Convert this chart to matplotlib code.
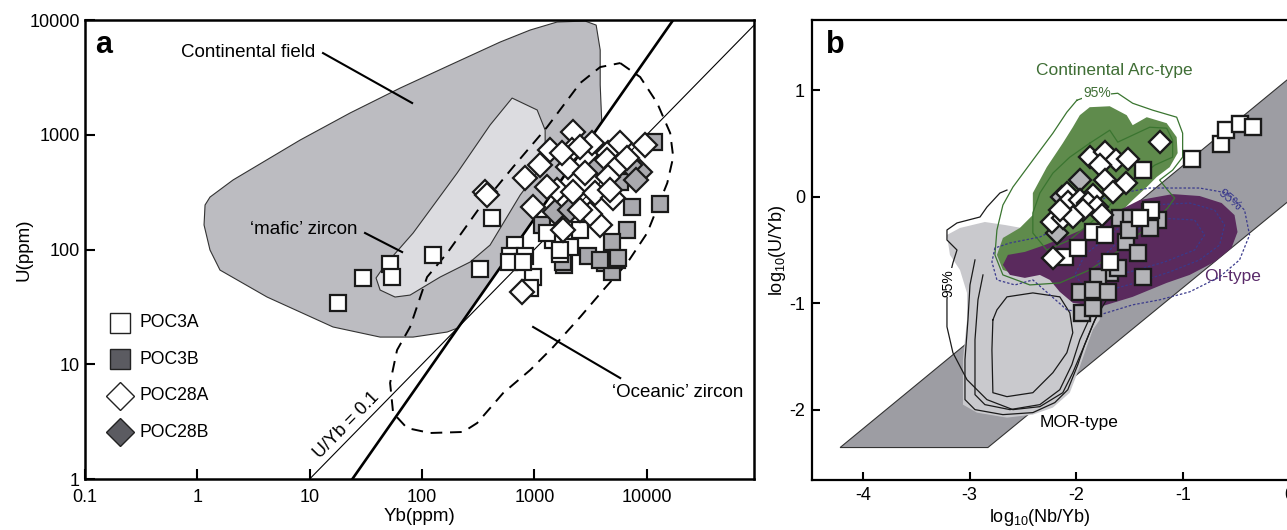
import numpy as np
import matplotlib
matplotlib.use("Agg")
import matplotlib.pyplot as plt

plt.rcParams['font.family'] = ['Liberation Sans', 'DejaVu Sans']
plt.rcParams['mathtext.default'] = 'regular'
plt.rcParams['axes.unicode_minus'] = False

# ---------------- panel a : U vs Yb (ppm) ----------------
poc3a_yb = [18, 30, 52, 54, 126, 330, 420, 674, 608, 828, 1695, 1480, 2550, 982, 2080, 1290, 917, 589, 800, 1700]
poc3a_u = [34, 56, 75, 58, 90, 68, 190, 109, 87, 87, 92, 121, 148, 58, 106, 138, 46, 78, 78, 100]

poc3b_yb = [7380, 13200, 6650, 4900, 3030, 4270, 4900, 5420, 1820, 11500, 5800, 1165, 1815, 3850, 5600]
poc3b_u = [236, 249, 148, 117, 87, 76, 64, 81, 73, 871, 390, 163, 78, 81, 84]

poc28a_yb = [2230, 3240, 1380, 2150, 4560, 5800, 9680, 1125, 2010, 2830, 4410, 5420, 4560, 828,
             1580, 2230, 3470, 5060, 1290, 981, 1815, 3850, 3130, 2550, 2550, 6650, 1750, 4720,
             365, 380, 780]
poc28a_u = [1064, 841, 736, 736, 689, 841, 815, 545, 527, 461, 603, 527, 432, 417,
            330, 319, 308, 279, 352, 236, 148, 163, 206, 221, 787, 624, 689, 330,
            320, 300, 43]

poc28b_yb = [8730, 1530, 2080, 3850, 7110, 8000]
poc28b_u = [476, 213, 221, 546, 546, 400]

# field outlines, log10 units
cont_logyb = [0.113, 0.318, 0.915, 1.360, 1.805, 2.250, 2.695, 2.963, 3.203, 3.452, 3.550, 3.586,
              3.586, 3.600, 2.318, 2.224, 1.921, 1.627, 1.208, 0.621, 0.202, 0.113, 0.060, 0.069]
cont_logu = [2.457, 2.606, 2.954, 3.190, 3.407, 3.608, 3.808, 3.913, 3.983, 3.991, 3.956, 3.739,
             3.434, 3.111, 1.316, 1.281, 1.237, 1.237, 1.325, 1.586, 1.821, 1.996, 2.214, 2.388]

mafic_logyb = [2.802, 3.025, 3.096, 3.096, 3.007, 2.874, 2.740, 2.606, 2.428, 2.161, 1.894, 1.760,
               1.627, 1.591, 1.671, 1.921, 2.313, 2.606]
mafic_logu = [3.320, 3.216, 3.041, 2.867, 2.649, 2.475, 2.257, 2.039, 1.891, 1.760, 1.603, 1.586,
              1.647, 1.752, 1.865, 2.144, 2.667, 3.085]

ocean_logyb = [3.764, 3.942, 4.093, 4.209, 4.236, 4.183, 4.004, 3.826, 3.613, 3.408, 3.167, 2.963,
               2.722, 2.491, 2.366, 2.072, 1.867, 1.743, 1.716, 1.778, 1.894, 2.045, 2.224, 2.517,
               2.811, 3.114, 3.408, 3.586, 3.764]
ocean_logu = [3.625, 3.503, 3.277, 3.015, 2.806, 2.580, 2.144, 1.882, 1.647, 1.412, 1.150, 0.950,
              0.749, 0.488, 0.410, 0.401, 0.444, 0.575, 0.837, 1.124, 1.325, 1.760, 1.969, 2.370,
              2.719, 3.068, 3.451, 3.590, 3.625]

uyb_line_yb = [10, 90000]
thick_line_yb = [24, 17200]
thick_line_u = [1, 10000]

# ---------------- panel b : log(U/Yb) vs log(Nb/Yb) ----------------
b_poc3a_x = [-1.372, -0.910, -0.638, -0.598, -0.466, -0.341, -1.841, -1.732, -2.107, -1.982, -1.685, -1.294, -1.404]
b_poc3a_y = [0.250, 0.359, 0.500, 0.625, 0.681, 0.656, -0.328, -0.359, -0.563, -0.484, -0.609, -0.125, -0.203]

b_poc3b_x = [-1.591, -1.482, -1.310, -1.232, -1.310, -1.528, -1.419, -1.685, -1.607, -1.794, -1.372,
             -1.966, -1.841, -1.700, -1.950, -1.841, -1.500]
b_poc3b_y = [-0.203, -0.203, -0.141, -0.219, -0.297, -0.422, -0.531, -0.719, -0.672, -0.750, -0.750,
             -0.891, -0.875, -0.891, -1.094, -1.047, -0.310]

b_poc28a_x = [-1.215, -1.872, -1.731, -1.622, -1.512, -1.778, -1.731, -1.528, -1.653, -1.840, -2.090,
              -2.075, -1.965, -1.887, -1.809, -1.934, -1.762, -2.231, -2.122, -2.028, -2.153, -2.216]
b_poc28a_y = [0.516, 0.375, 0.422, 0.344, 0.359, 0.297, 0.156, 0.125, 0.047, 0.016, 0.031,
              -0.047, -0.031, -0.063, -0.094, -0.125, -0.172, -0.234, -0.203, -0.188, -0.125, -0.578]

b_poc28b_x = [-1.966, -2.137, -2.182]
b_poc28b_y = [0.156, 0.000, -0.340]

band_x = [-4.216, -2.829, 0.6, 0.6]
band_y = [-2.355, -2.355, 0.457, 1.608]

mor_x = [-3.213, -3.091, -2.857, -2.669, -2.407, -2.154, -1.779, -1.779, -1.844, -1.901, -1.966, -2.060,
         -2.219, -2.407, -2.650, -2.932, -3.063, -3.063, -3.025, -3.025, -3.091, -3.185]
mor_y = [-0.359, -0.293, -0.237, -0.265, -0.312, -0.546, -1.015, -1.156, -1.249, -1.409, -1.596, -1.840,
         -1.980, -2.046, -2.074, -2.027, -1.952, -1.530, -1.156, -0.903, -0.687, -0.546]

mor_c1_x = [-2.650, -2.716, -2.838, -2.903, -3.119, -3.213, -3.213, -3.119, -3.157, -3.203, -3.213, -3.213,
            -3.157, -3.025, -2.838, -2.594, -2.341, -2.126, -2.032, -1.921, -1.826, -1.704]
mor_c1_y = [0.063, 0.035, -0.097, -0.190, -0.246, -0.312, -0.406, -0.500, -0.621, -0.809, -0.968, -1.221,
            -1.465, -1.718, -1.905, -1.999, -1.971, -1.840, -1.652, -1.390, -1.156, -0.949]
mor_c2_x = [-2.950, -2.997, -3.016, -3.044, -3.044, -2.950, -2.688, -2.407, -2.201, -2.079, -1.985, -1.921, -1.844, -1.779]
mor_c2_y = [-0.593, -0.828, -1.156, -1.530, -1.905, -1.999, -2.046, -2.027, -1.933, -1.812, -1.577, -1.390, -1.202, -1.062]
mor_c3_x = [-2.875, -2.922, -2.950, -2.950, -2.857, -2.622, -2.341, -2.154, -2.041, -1.966, -1.873]
mor_c3_y = [-0.734, -0.968, -1.343, -1.858, -1.952, -1.999, -1.952, -1.812, -1.577, -1.343, -1.137]
mor_c4_x = [-2.782, -2.791, -2.782, -2.650, -2.407, -2.219, -2.088, -2.032, -2.060, -2.154, -2.407, -2.650, -2.744, -2.782]
mor_c4_y = [-1.156, -1.437, -1.840, -1.877, -1.840, -1.652, -1.465, -1.277, -1.090, -0.940, -0.903, -0.940, -1.062, -1.156]

arc_x = [-1.966, -1.873, -1.685, -1.526, -1.470, -1.338, -1.151, -1.057, -1.048, -1.123, -1.245, -1.338, -1.470,
         -1.591, -1.779, -1.966, -2.154, -2.341, -2.529, -2.688, -2.744, -2.688, -2.529, -2.407, -2.407,
         -2.276, -2.126, -2.032]
arc_y = [0.766, 0.841, 0.850, 0.766, 0.672, 0.747, 0.691, 0.560, 0.410, 0.278, 0.185, 0.091, -0.031,
         -0.153, -0.340, -0.500, -0.621, -0.706, -0.743, -0.687, -0.546, -0.387, -0.293, -0.171, 0.035,
         0.278, 0.503, 0.653]
arc_c1_x = [-1.994, -1.891, -1.610, -1.470, -1.282, -1.057, -1.001, -1.001, -1.095, -1.217, -1.142, -1.076,
            -1.142, -1.310, -1.591, -1.873, -2.154, -2.435, -2.688, -2.763, -2.744, -2.688, -2.594, -2.407,
            -2.219, -2.088, -1.994]
arc_c1_y = [0.906, 0.944, 0.972, 0.878, 0.813, 0.747, 0.597, 0.372, 0.250, 0.157, 0.063, -0.012,
            -0.106, -0.265, -0.500, -0.687, -0.809, -0.828, -0.734, -0.546, -0.312, -0.078, 0.091, 0.344,
            0.597, 0.794, 0.906]
arc_c2_x = [-1.873, -1.685, -1.610, -1.310, -1.151, -1.095, -1.095, -1.263, -1.498, -1.779, -2.060, -2.276,
            -2.407, -2.407, -2.341, -2.219, -2.060, -1.873]
arc_c2_y = [0.503, 0.625, 0.513, 0.653, 0.644, 0.531, 0.372, 0.297, 0.110, -0.172, -0.406, -0.500,
            -0.340, -0.153, 0.035, 0.222, 0.372, 0.503]

oi_x = [-1.404, -1.095, -0.842, -0.635, -0.514, -0.486, -0.542, -0.701, -0.935, -1.151, -1.470, -1.779,
        -2.032, -2.154, -2.247, -2.341, -2.482, -2.622, -2.688, -2.641, -2.482, -2.294, -2.060, -1.779, -1.591]
oi_y = [-0.031, 0.025, 0.007, -0.059, -0.172, -0.331, -0.481, -0.612, -0.734, -0.809, -0.940, -1.034,
        -0.996, -0.893, -0.781, -0.734, -0.762, -0.734, -0.640, -0.546, -0.518, -0.453, -0.359, -0.237, -0.125]
oi_c1_x = [-1.685, -1.310, -0.842, -0.579, -0.420, -0.373, -0.467, -0.654, -0.935, -1.217, -1.470, -1.779,
           -2.088, -2.247, -2.407, -2.575, -2.744, -2.791, -2.763, -2.622, -2.341, -2.060, -1.873, -1.685]
oi_c1_y = [0.016, 0.082, 0.082, 0.035, -0.125, -0.359, -0.593, -0.753, -0.893, -0.968, -1.015, -1.109,
           -1.062, -0.921, -0.781, -0.828, -0.781, -0.612, -0.481, -0.434, -0.378, -0.237, -0.097, 0.016]
oi_c2_x = [-1.310, -0.935, -0.701, -0.607, -0.654, -0.842, -1.123, -1.404, -1.685, -1.919, -2.013, -1.919,
           -1.685, -1.498, -1.310]
oi_c2_y = [-0.078, -0.059, -0.125, -0.265, -0.453, -0.593, -0.706, -0.799, -0.874, -0.856, -0.734, -0.546,
           -0.359, -0.218, -0.078]
oi_c3_x = [-1.217, -0.889, -0.795, -0.889, -1.170, -1.498, -1.732, -1.798, -1.638, -1.404, -1.217]
oi_c3_y = [-0.200, -0.218, -0.359, -0.500, -0.612, -0.706, -0.734, -0.612, -0.453, -0.293, -0.200]

# ---------------- figure ----------------
fig = plt.figure(figsize=(12.87, 5.30), dpi=100)
ax = fig.add_axes([0.066, 0.0962, 0.5198, 0.866])
bx = fig.add_axes([0.6309, 0.0943, 0.404, 0.868])

GRAY_B = '#a9a9ae'
DARK_B = '#5b5b61'

# ---- panel a ----
ax.set_xscale('log')
ax.set_yscale('log')
ax.set_xlim(0.1, 9e4)
ax.set_ylim(1, 10000)

ax.fill(10 ** np.array(cont_logyb), 10 ** np.array(cont_logu), fc='#bcbcc1', ec='#333333', lw=0.8, zorder=1)
ax.fill(10 ** np.array(mafic_logyb), 10 ** np.array(mafic_logu), fc='#dcdce0', ec='#333333', lw=0.8, zorder=2)
ax.plot(uyb_line_yb, 0.1 * np.array(uyb_line_yb), color='k', lw=0.8, zorder=3)
ax.plot(thick_line_yb, thick_line_u, color='k', lw=1.9, zorder=3)
ax.plot(10 ** np.array(ocean_logyb), 10 ** np.array(ocean_logu), color='k', lw=1.4,
        linestyle=(0, (6, 4)), zorder=3)

mk = dict(mec='#1a1a1a', mew=1.6, ms=12, ls='none')
ax.plot(poc3b_yb, poc3b_u, marker='s', mfc=GRAY_B, zorder=5, **mk)
ax.plot(poc3a_yb, poc3a_u, marker='s', mfc='white', zorder=6, **mk)
ax.plot(poc28b_yb, poc28b_u, marker='D', mfc=GRAY_B, zorder=7, **mk)
ax.plot(poc28a_yb, poc28a_u, marker='D', mfc='white', zorder=8, **mk)

ax.text(2.83, 5260, 'Continental field', fontsize=13.5, ha='center', va='center')
ax.plot([10 ** 1.119, 10 ** 1.912], [10 ** 3.712, 10 ** 3.277], color='k', lw=1.5, zorder=4)
ax.text(8.9, 148, '\u2018mafic\u2019 zircon', fontsize=13.5, ha='center', va='center')
ax.plot([10 ** 1.493, 10 ** 1.823], [10 ** 2.144, 10 ** 1.978], color='k', lw=1.5, zorder=4)
ax.text(18700, 5.73, '\u2018Oceanic\u2019 zircon', fontsize=13.5, ha='center', va='center')
ax.plot([10 ** 2.989, 10 ** 3.764], [10 ** 1.325, 10 ** 0.880], color='k', lw=1.5, zorder=4)

p1 = ax.transData.transform((10, 1))
p2 = ax.transData.transform((1e4, 1e3))
ang = np.degrees(np.arctan2(p2[1] - p1[1], p2[0] - p1[0]))
ax.text(24.1, 2.6, 'U/Yb = 0.1', fontsize=13, rotation=ang, rotation_mode='anchor',
        ha='center', va='bottom')

ax.text(0.028, 0.946, 'a', transform=ax.transAxes, fontsize=22, fontweight='bold', ha='center', va='center')

legend_rows = [('POC3A', 's', 'white'), ('POC3B', 's', DARK_B),
               ('POC28A', 'D', 'white'), ('POC28B', 'D', DARK_B)]
for i, (lab, m, fc) in enumerate(legend_rows):
    yy = 0.340 - i * 0.0795
    ax.plot(0.052, yy, marker=m, ms=14.5, mfc=fc, mec='#222222', mew=1.0,
            transform=ax.transAxes, clip_on=False, zorder=9)
    ax.text(0.082, yy, lab, transform=ax.transAxes, fontsize=12.7, va='center', ha='left')

ax.set_xticks([0.1, 1, 10, 100, 1000, 10000])
ax.set_xticklabels(['0.1', '1', '10', '100', '1000', '10000'])
ax.set_yticks([1, 10, 100, 1000, 10000])
ax.set_yticklabels(['1', '10', '100', '1000', '10000'])
ax.minorticks_off()
ax.tick_params(axis='both', direction='in', length=7.5, width=1.5, labelsize=13)
ax.tick_params(axis='x', pad=7)
ax.tick_params(axis='y', pad=3.5)
for s in ax.spines.values():
    s.set_linewidth(1.8)
ax.set_xlabel('Yb(ppm)', fontsize=13.5)
ax.set_ylabel('U(ppm)', fontsize=13.5)
ax.xaxis.set_label_coords(0.50, -0.063)
ax.yaxis.set_label_coords(-0.079, 0.5)

# ---- panel b ----
bx.set_xlim(-4.48, 0.4)
bx.set_ylim(-2.66, 1.66)

bx.fill(band_x, band_y, fc='#9d9da3', ec='#333333', lw=0.8, zorder=1)
bx.fill(mor_x, mor_y, fc='#c9c9cd', ec='none', zorder=2)
bx.fill(arc_x, arc_y, fc='#5f8b4c', ec='none', zorder=3)
bx.fill(oi_x, oi_y, fc='#5a2a5d', ec='none', zorder=4)

for cx, cy in [(mor_c1_x, mor_c1_y), (mor_c2_x, mor_c2_y), (mor_c3_x, mor_c3_y), (mor_c4_x, mor_c4_y)]:
    bx.plot(cx, cy, color='#1a1a1a', lw=0.9, zorder=5)
for cx, cy in [(arc_c1_x, arc_c1_y), (arc_c2_x, arc_c2_y)]:
    bx.plot(cx, cy, color='#3a7530', lw=0.9, zorder=5)
for cx, cy in [(oi_c1_x, oi_c1_y), (oi_c2_x, oi_c2_y), (oi_c3_x, oi_c3_y)]:
    bx.plot(cx, cy, color='#3a3a8c', lw=0.9, linestyle=(0, (2, 1.5)), zorder=5)

mkb = dict(mec='#1a1a1a', mew=1.7, ms=11, ls='none')
bx.plot(b_poc3b_x, b_poc3b_y, marker='s', mfc='#b4b4b8', zorder=6, **mkb)
bx.plot(b_poc3a_x, b_poc3a_y, marker='s', mfc='white', zorder=7, **mkb)
bx.plot(b_poc28b_x, b_poc28b_y, marker='D', mfc='#b4b4b8', zorder=8, **mkb)
bx.plot(b_poc28a_x, b_poc28a_y, marker='D', mfc='white', zorder=9, **mkb)

bx.text(-1.638, 1.187, 'Continental Arc-type', color='#3f6e35', fontsize=12.5, ha='center', va='center')
bx.text(-1.807, 0.972, '95%', color='#3f6e35', fontsize=10, ha='center', va='center',
        bbox=dict(fc='white', ec='none', pad=0.5), zorder=6)
bx.text(-0.532, -0.753, 'OI-type', color='#5a2a6a', fontsize=12.5, ha='center', va='center')
bx.text(-0.560, -0.031, '95%', color='#3a3a8c', fontsize=9.5, ha='center', va='center', rotation=-40,
        zorder=6)
bx.text(-1.976, -2.121, 'MOR-type', color='k', fontsize=12.5, ha='center', va='center')
bx.text(-3.203, -0.809, '95%', color='k', fontsize=10, ha='center', va='center', rotation=90,
        bbox=dict(fc='white', ec='none', pad=0.5), zorder=6)
bx.text(0.044, 0.946, 'b', transform=bx.transAxes, fontsize=22, fontweight='bold', ha='center', va='center')

bx.set_xticks([-4, -3, -2, -1, 0])
bx.set_yticks([-2, -1, 0, 1])
bx.tick_params(axis='both', direction='in', length=6, width=1.5, labelsize=13, pad=5)
for s in bx.spines.values():
    s.set_linewidth(1.6)
bx.set_xlabel('log$_{10}$(Nb/Yb)', fontsize=13)
bx.set_ylabel('log$_{10}$(U/Yb)', fontsize=13)
bx.xaxis.set_label_coords(0.438, -0.059)
bx.yaxis.set_label_coords(-0.046, 0.5)

fig.savefig('out.png', dpi=100)
